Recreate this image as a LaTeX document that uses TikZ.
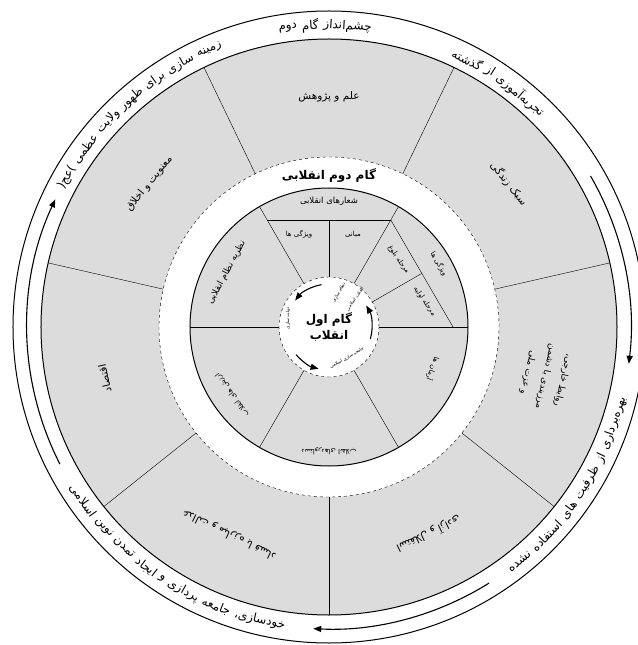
\documentclass[tikz,border=0pt]{standalone}
\usepackage{fontspec}
\usetikzlibrary{arrows.meta,calc}
\newfontfamily\fa[Script=Arabic]{DejaVu Sans}
\TeXXeTstate=1
\definecolor{ringgray}{HTML}{DCDCDC}
\newcommand{\rtl}[1]{\beginR #1\endR}
% words along the band: #1 start angle, #2 +1 (upright, counterclockwise) or -1 (turned, clockwise), #3 word/half-angle list
\newcommand{\arcwords}[3]{%
  \coordinate (bw0) at (#1:302);
  \foreach \w/\e [count=\j] in {#3}{\pgfmathtruncatemacro\jp{\j-1}%
    \path let \p1=(bw\jp.west), \n1={atan2(\y1,\x1)+(#2)*0.85} in
      node[bandtxt,anchor=east,rotate={\n1+(#2)*\e-90*(#2)}] (bw\j) at (\n1:302) {\w};}}

\begin{document}
\begin{tikzpicture}[x=1pt,y=1pt,every node/.style={inner sep=0pt},
  bandtxt/.style={font=\fa\fontsize{12}{14}\selectfont},
  sectortxt/.style={font=\fa\fontsize{10.5}{13}\selectfont,align=center},
  ringtxt/.style={font=\fa\fontsize{7}{8}\selectfont,align=center},
  coretxt/.style={font=\fa\fontsize{4.5}{5}\selectfont},
  cycle/.style={line width=1.1pt,-{Triangle[length=8pt,width=6pt]}}]
\useasboundingbox (-329,-318) rectangle (308,327);
% rings
\draw[line width=1pt,fill=white] (0,0) circle (316);
\draw[line width=1pt,fill=ringgray] (0,0) circle (288);
\draw[dashed,fill=white] (0,0) circle (170);
\draw[line width=1pt,fill=ringgray] (0,0) circle (139);
\draw[dashed,fill=white] (0,0) circle (50);
% outer sectors
\foreach \k in {0,...,6}{\draw ({64.2857+\k*51.4286}:170) -- ({64.2857+\k*51.4286}:288);}
\foreach \a/\t [count=\i] in {90/علم و پژوهش,38.57/سبک زندگی,141.43/معنویت و اخلاق,192.86/اقتصاد,
  244.29/عدالت و مبارزه با فساد,295.71/استقلال و آزادی}
  {\node[sectortxt,rotate=\a-90] (s\i) at (\a:230) {\rtl{\t}};}
\node[sectortxt,font=\fa\fontsize{9}{18}\selectfont,rotate=-102.86] (s7) at (-12.86:222)
  {\rtl{روابط خارجی،}\\\rtl{مرزبندی با دشمن}\\\rtl{و عزت ملی}};
% middle ring
\foreach \a in {0,60,120,180,240,300}{\draw (\a:50) -- (\a:139);}
\draw (90:50) -- (0,107);
\draw (-61.8,107) -- (61.8,107);
\draw (61.8,107) -- (124,0);
\draw (30:50) -- (30:107);
\node[ringtxt,font=\fa\fontsize{8.5}{9}\selectfont] (slogan) at (0,126) {\rtl{شعارهای انقلابی}};
\node[ringtxt] (traits) at (-30,93) {\rtl{ویژگی ها}};
\node[ringtxt] (basis) at (24,93) {\rtl{مبانی}};
\node[ringtxt,font=\fa\fontsize{9}{10}\selectfont,rotate=62] (theory) at (152:116) {\rtl{نظریه نظام انقلابی}};
\node[ringtxt,rotate=-60] (traits2) at (30:127) {\rtl{ویژگی ها}};
\node[ringtxt,rotate=-55] (mature) at (44:97) {\rtl{مرحله بلوغ}};
\node[ringtxt,rotate=-55] (early) at (15:99) {\rtl{مرحله اولیه}};
\node[ringtxt,rotate=127] (values) at (-145:118) {\rtl{ارزش های انقلاب}};
\node[ringtxt,rotate=180] (gains) at (-90:124) {\rtl{دستاوردهای انقلاب}};
\node[ringtxt,rotate=-110] (plans) at (-22:112) {\rtl{آرمان ها}};
\node[font=\fa\bfseries\fontsize{12}{14}\selectfont] (step2) at (0,151) {\rtl{گام دوم انقلابی}};
% core
\node[font=\fa\bfseries\fontsize{12}{16}\selectfont,align=center] (step1) at (0,0) {\rtl{گام اول}\\\rtl{انقلاب}};
\draw[cycle] (100:43) arc[start angle=100,end angle=142,radius=43];
\draw[cycle] (-16:43) arc[start angle=-16,end angle=30,radius=43];
\draw[cycle] (-140:43) arc[start angle=-140,end angle=-104,radius=43];
\node[coretxt,rotate=60] (c1) at (74:36) {\rtl{نظام سازی}};
\node[coretxt,rotate=55] (c2) at (47:38) {\rtl{انقلاب اسلامی}};
\node[coretxt,rotate=90] (c3) at (168:42) {\rtl{دولت سازی}};
\node[coretxt,rotate=30] (c4) at (-60:36) {\rtl{جامعه سازی اسلامی}};
% outer band
\arcwords{81}{1}{چشم‌انداز/4.4,گام/2.0,دوم/2.1}
\arcwords{44}{1}{تجربه‌آموزی/5.2,از/1.0,گذشته/3.1}
\arcwords{110}{1}{زمینه/3.0,سازی/2.5,برای/2.3,ظهور/2.4,ولایت/2.7,عظمی/2.5,(\rtl{عج})/2.5}
\arcwords{-12.5}{-1}{بهره‌برداری/5.5,از/1.0,ظرفیت/3.1,های/1.5,استفاده/3.7,نشده/2.5}
\arcwords{-97.5}{-1}{خودسازی،/4.6,جامعه/3.1,پردازی/3.4,و/0.7,ایجاد/2.5,تمدن/2.6,نوین/2.3,اسلامی/3.4}
\draw[cycle] (30:302) arc[start angle=30,end angle=-7,radius=302];
\draw[cycle] (-58:302) arc[start angle=-58,end angle=-93,radius=302];
\draw[cycle] (207:302) arc[start angle=207,end angle=155,radius=302];
\end{tikzpicture}
\end{document}
